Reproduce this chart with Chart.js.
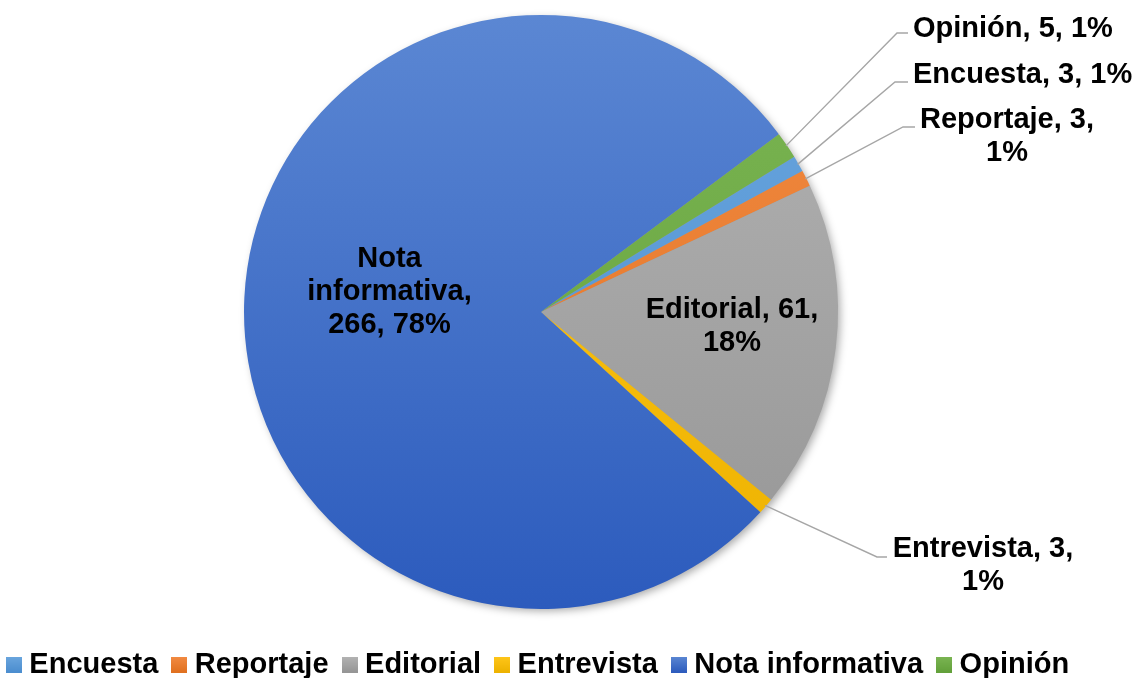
<!DOCTYPE html>
<html><head><meta charset="utf-8">
<script src="https://cdn.jsdelivr.net/npm/chart.js@4"></script>
<style>
html,body{margin:0;padding:0;background:#fff;overflow:hidden;}
#wrap{width:1136px;height:678px;position:relative;overflow:hidden;}
#c{position:absolute;left:-27px;top:-6px;}
</style>
</head><body><div id="wrap"><canvas id="c" width="1190" height="695"></canvas></div>
<script>
// ---- data ----
const categories = ['Encuesta', 'Reportaje', 'Editorial', 'Entrevista', 'Nota informativa', 'Opinión'];
const counts = [3, 3, 61, 3, 266, 5];
const labelWrap = ['one', 'two', 'two', 'two', 'three', 'one'];

// ---- styles ----
const colorTop = ['#6AA6DE', '#F28B43', '#B3B3B3', '#FFC61A', '#5B87D3', '#7BB553'];
const colorBottom = ['#4B8DCF', '#E0701F', '#959595', '#EDB200', '#2C5BBD', '#62A03A'];
const legendColors = ['#5B9BD5', '#ED7D31', '#A5A5A5', '#FFC000', '#4472C4', '#70AD47'];
const PIE_R = 297;
const FONT = "'Liberation Sans', Arial, sans-serif";
const FONT_SIZE = 29;
const LINE_H = 33;
const BOX = 16;

// label placement, in units of the pie radius relative to the pie centre
const labelLayout = [
  {type: 'out', elbow: [1.1919, -0.7744], end: [1.2357, -0.7744], text: [1.2525, -0.7710], align: 'left'},
  {type: 'out', elbow: [1.2189, -0.6229], end: [1.2593, -0.6229], text: [1.5690, -0.6195], align: 'center'},
  {type: 'in', text: [0.6430, 0.0212], align: 'center'},
  {type: 'out', elbow: [1.1313, 0.8249], end: [1.1650, 0.8249], text: [1.4882, 0.8249], align: 'center'},
  {type: 'in', text: [-0.5101, -0.1520], align: 'center'},
  {type: 'out', elbow: [1.1987, -0.9394], end: [1.2357, -0.9394], text: [1.2525, -0.9259], align: 'left'}
];

const total = counts.reduce((a, b) => a + b, 0);
function labelLines(i) {
  const pct = Math.round(counts[i] / total * 100) + '%';
  const cat = categories[i];
  if (labelWrap[i] === 'one') return [cat + ', ' + counts[i] + ', ' + pct];
  if (labelWrap[i] === 'two') return [cat + ', ' + counts[i] + ',', pct];
  const words = cat.split(' ');
  return [words[0], words.slice(1).join(' ') + ',', counts[i] + ', ' + pct];
}

function sliceFill(ctx) {
  const i = ctx.dataIndex;
  const chart = ctx.chart;
  const area = chart.chartArea;
  if (!area || i === undefined) return legendColors[i || 0];
  const cy = (area.top + area.bottom) / 2;
  const g = chart.ctx.createLinearGradient(0, cy - PIE_R, 0, cy + PIE_R);
  g.addColorStop(0, colorTop[i]);
  g.addColorStop(1, colorBottom[i]);
  return g;
}

// small gradient squares for the legend
const legendBoxes = categories.map((_, i) => {
  const cv = document.createElement('canvas');
  cv.width = BOX; cv.height = BOX;
  const x = cv.getContext('2d');
  const g = x.createLinearGradient(0, 0, 0, BOX);
  g.addColorStop(0, colorTop[i]);
  g.addColorStop(1, colorBottom[i]);
  x.fillStyle = g;
  x.fillRect(0, 0, BOX, BOX);
  return cv;
});

const shadowPlugin = {
  id: 'pieShadow',
  beforeDatasetsDraw(chart) {
    const arc = chart.getDatasetMeta(0).data[0];
    if (!arc) return;
    const {x, y, outerRadius} = arc.getProps(['x', 'y', 'outerRadius'], true);
    const c = chart.ctx;
    c.save();
    c.shadowColor = 'rgba(0,0,0,0.35)';
    c.shadowBlur = 9;
    c.shadowOffsetX = 3;
    c.shadowOffsetY = 3;
    c.fillStyle = '#999';
    c.beginPath();
    c.arc(x, y, outerRadius - 1, 0, Math.PI * 2);
    c.fill();
    c.restore();
  }
};

const labelPlugin = {
  id: 'sliceLabels',
  afterDatasetsDraw(chart) {
    const meta = chart.getDatasetMeta(0);
    const c = chart.ctx;
    c.save();
    c.font = 'bold ' + FONT_SIZE + 'px ' + FONT;
    c.fillStyle = '#000';
    c.textBaseline = 'alphabetic';
    meta.data.forEach((arc, i) => {
      const {x, y, startAngle, endAngle, outerRadius} = arc.getProps(['x', 'y', 'startAngle', 'endAngle', 'outerRadius'], true);
      const R = outerRadius;
      const L = labelLayout[i];
      if (L.type === 'out') {
        const mid = (startAngle + endAngle) / 2;
        c.strokeStyle = '#A6A6A6';
        c.lineWidth = 1.4;
        c.beginPath();
        c.moveTo(x + Math.cos(mid) * (R - 1), y + Math.sin(mid) * (R - 1));
        c.lineTo(x + L.elbow[0] * R, y + L.elbow[1] * R);
        c.lineTo(x + L.end[0] * R, y + L.end[1] * R);
        c.stroke();
      }
      c.textAlign = L.align;
      const lines = labelLines(i);
      lines.forEach((t, k) => {
        c.fillText(t, x + L.text[0] * R, y + L.text[1] * R + k * LINE_H);
      });
    });
    c.restore();
  }
};

new Chart(document.getElementById('c'), {
  type: 'pie',
  data: {
    labels: categories,
    datasets: [{
      data: counts,
      backgroundColor: sliceFill,
      borderWidth: 0,
      clip: false
    }]
  },
  options: {
    responsive: false,
    animation: false,
    events: [],
    rotation: 58.5,
    radius: PIE_R,
    layout: {padding: {top: 0, bottom: 0, left: 0, right: 54}},
    plugins: {
      tooltip: {enabled: false},
      legend: {
        position: 'bottom',
        labels: {
          usePointStyle: true,
          pointStyleWidth: 2,
          boxHeight: BOX,
          padding: 20,
          color: '#000',
          font: {family: FONT, size: FONT_SIZE, weight: 'bold'},
          generateLabels(chart) {
            const items = Chart.overrides.pie.plugins.legend.labels.generateLabels(chart);
            return items.map((it, i) => Object.assign(it, {pointStyle: legendBoxes[i], fillStyle: legendColors[i], strokeStyle: legendColors[i], lineWidth: 0}));
          }
        }
      }
    }
  },
  plugins: [shadowPlugin, labelPlugin]
});
</script>
</body></html>
